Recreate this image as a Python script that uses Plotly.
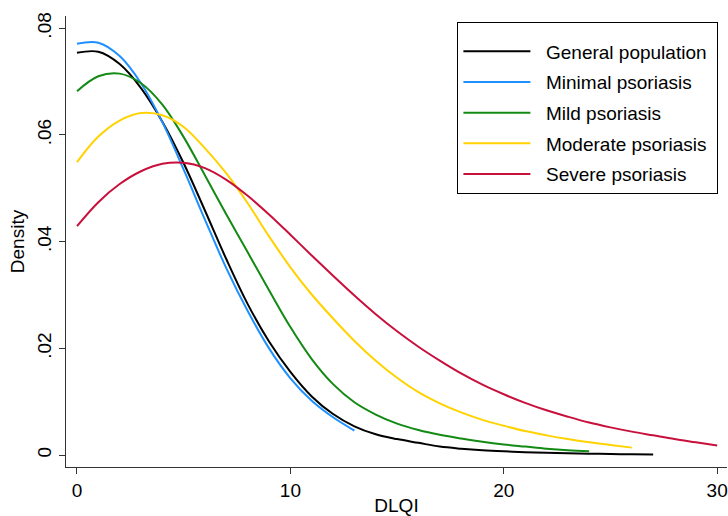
import plotly.graph_objects as go

# DLQI values (x) for each series, density estimates (y)
x_general = list(range(0, 28))
y_general = [0.0754, 0.0756, 0.0733, 0.0688, 0.0625, 0.0547, 0.0458, 0.0367, 0.0283,
             0.0213, 0.0156, 0.0110, 0.0077, 0.0054, 0.0039, 0.0030, 0.0023, 0.0016,
             0.0012, 0.0009, 0.0007, 0.00055, 0.00044, 0.00035, 0.00027, 0.00020,
             0.00016, 0.00012]

x_minimal = list(range(0, 14))
y_minimal = [0.0771, 0.0773, 0.0748, 0.0697, 0.0624, 0.0535, 0.0441, 0.0350, 0.0270,
             0.0200, 0.0144, 0.0102, 0.0071, 0.0046]

x_mild = list(range(0, 25))
y_mild = [0.0682, 0.0710, 0.0715, 0.0697, 0.0657, 0.0596, 0.0524, 0.0451, 0.0380,
          0.0309, 0.0240, 0.0180, 0.0133, 0.0099, 0.0076, 0.0059, 0.0047, 0.0038,
          0.0031, 0.0025, 0.0020, 0.0016, 0.0012, 0.0009, 0.0007]

x_moderate = list(range(0, 27))
y_moderate = [0.0549, 0.0597, 0.0627, 0.0641, 0.0637, 0.0615, 0.0575, 0.0528, 0.0472,
              0.0410, 0.0352, 0.0301, 0.0256, 0.0214, 0.0177, 0.0145, 0.0118, 0.0097,
              0.0080, 0.0066, 0.0055, 0.0045, 0.0037, 0.0030, 0.0024, 0.0019, 0.0014]

x_severe = list(range(0, 31))
y_severe = [0.0429, 0.0474, 0.0508, 0.0532, 0.0546, 0.0548, 0.0538, 0.0516, 0.0486,
            0.0451, 0.0413, 0.0374, 0.0336, 0.0299, 0.0264, 0.0232, 0.0203, 0.0177,
            0.0153, 0.0132, 0.0114, 0.0098, 0.0084, 0.0072, 0.0061, 0.0052, 0.0044,
            0.0037, 0.0030, 0.0024, 0.0018]

names = ["General population", "Minimal psoriasis", "Mild psoriasis",
         "Moderate psoriasis", "Severe psoriasis"]
colors = ["#000000", "#1e90ff", "#138a13", "#ffd200", "#c8103c"]

xs = [x_general, x_minimal, x_mild, x_moderate, x_severe]
ys = [y_general, y_minimal, y_mild, y_moderate, y_severe]

y_tickvals = [0, 0.02, 0.04, 0.06, 0.08]
y_ticktext = ["0", ".02", ".04", ".06", ".08"]
x_tickvals = [0, 10, 20, 30]

FONT = "Liberation Sans, Arial, sans-serif"
FS = 19
GAP = "\u00a0\u00a0"  # spacing between legend line sample and label
PAD = "\u00a0"        # right padding inside legend box

fig = go.Figure()
for i, (xx, yy, nm, c) in enumerate(zip(xs, ys, names, colors)):
    fig.add_trace(go.Scatter(
        x=xx, y=yy, mode="lines", name=GAP + nm + PAD,
        line=dict(color=c, width=2, shape="spline", smoothing=1.0),
        legendgroup=str(i),
    ))

fig.update_layout(
    width=728, height=516,
    margin=dict(l=66, r=0, t=16, b=45),
    paper_bgcolor="white", plot_bgcolor="white",
    font=dict(family=FONT, size=FS, color="black"),
    showlegend=True,
    legend=dict(
        x=0.987, xanchor="right", y=0.986, yanchor="top",
        bgcolor="white", bordercolor="#000000", borderwidth=1,
        font=dict(family=FONT, size=FS, color="black"),
        tracegroupgap=3, itemwidth=67,
        title=dict(text=" ", font=dict(size=7)),
    ),
    xaxis=dict(
        range=[-0.515, 30.46], tickvals=x_tickvals,
        showgrid=False, zeroline=False,
        showline=True, linecolor="#333333", linewidth=1.3,
        ticks="outside", ticklen=6, tickcolor="#333333", tickwidth=1.3,
        tickfont=dict(size=FS), ticklabeloverflow="allow",
        title=dict(text="DLQI", font=dict(size=FS), standoff=2),
    ),
    yaxis=dict(
        range=[-0.00223, 0.0823], tickvals=y_tickvals, ticktext=y_ticktext,
        tickangle=-90,
        showgrid=False, zeroline=False,
        showline=True, linecolor="#333333", linewidth=1.3,
        ticks="outside", ticklen=6, tickcolor="#333333", tickwidth=1.3,
        tickfont=dict(size=FS),
        title=dict(text="Density", font=dict(size=FS), standoff=4),
    ),
)

fig.write_html("out.html")
